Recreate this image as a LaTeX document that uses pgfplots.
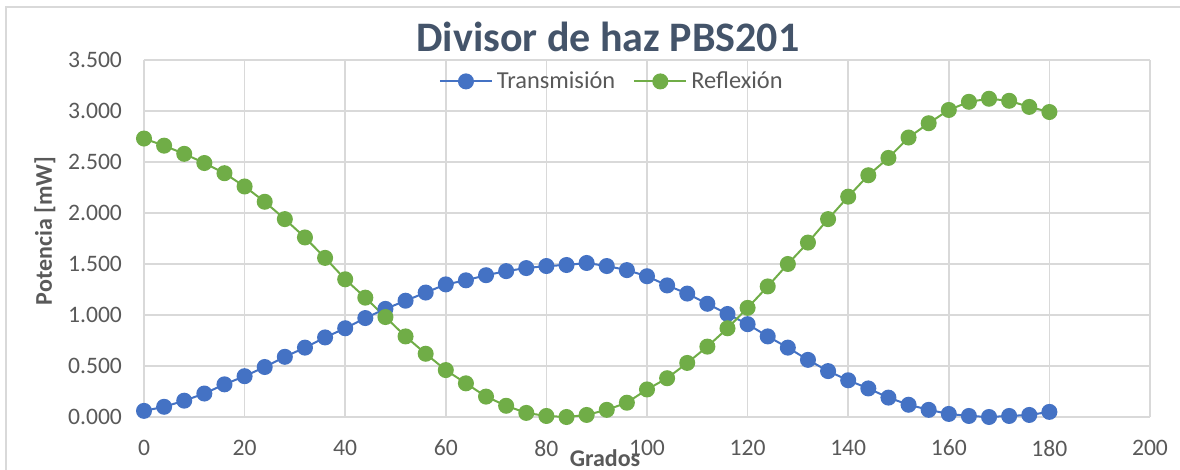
\documentclass[border=0pt]{standalone}
\usepackage{fontspec}
\setmainfont{Carlito}
\usepackage{pgfplots}
\pgfplotsset{compat=1.18}
\definecolor{tblue}{HTML}{4472C4}
\definecolor{rgreen}{HTML}{70AD47}
\definecolor{gridc}{HTML}{D9D9D9}
\definecolor{txt}{HTML}{595959}
\definecolor{ttl}{HTML}{44546A}

\begin{document}
\begin{tikzpicture}[x=0.5pt,y=0.5pt]
\useasboundingbox (0,0) rectangle (1180,470);
\draw[gridc, line width=0.75pt] (6,0) -- (6,463) -- (1180,463);
\begin{axis}[
    at={(72pt,26.5pt)}, anchor=south west,
    scale only axis, width=503pt, height=178.5pt,
    xmin=0, xmax=200, ymin=0, ymax=3.5,
    xtick={0,20,...,200}, ytick={0,0.5,1,1.5,2,2.5,3,3.5},
    grid=major, grid style={gridc, line width=0.75pt},
    axis line style={draw=none}, tick style={draw=none},
    clip=false,
    /pgf/number format/assume math mode=true,
    ticklabel style={font=\fontsize{11.8}{13}\selectfont, text=txt},
    yticklabel style={/pgf/number format/fixed, /pgf/number format/fixed zerofill,
        /pgf/number format/precision=3, xshift=-7.5pt},
    xticklabel style={/pgf/number format/fixed, yshift=-8pt},
    legend columns=2,
    legend style={at={(0.466,0.94)}, anchor=center, draw=none, fill=none,
        font=\fontsize{12.2}{14}\selectfont, text=txt,
        /tikz/every even column/.append style={column sep=7pt}},
    legend image code/.code={
        \draw[mark repeat=2, mark phase=2, #1] plot coordinates {(0pt,0pt) (13pt,0pt) (26pt,0pt)};},
]
\addplot[tblue, line width=1pt, mark=*, mark size=3.5pt, mark options={fill=tblue, draw=tblue}] coordinates {
(0,0.06) (4,0.10) (8,0.16) (12,0.23) (16,0.32) (20,0.40) (24,0.49) (28,0.59)
(32,0.68) (36,0.78) (40,0.87) (44,0.97) (48,1.06) (52,1.14) (56,1.22) (60,1.30)
(64,1.34) (68,1.39) (72,1.43) (76,1.46) (80,1.48) (84,1.49) (88,1.51) (92,1.48)
(96,1.44) (100,1.38) (104,1.29) (108,1.21) (112,1.11) (116,1.01) (120,0.91) (124,0.79)
(128,0.68) (132,0.56) (136,0.45) (140,0.36) (144,0.28) (148,0.19) (152,0.12) (156,0.07)
(160,0.03) (164,0.01) (168,0.00) (172,0.01) (176,0.02) (180,0.05)
};
\addlegendentry{Transmisión}
\addplot[rgreen, line width=1pt, mark=*, mark size=3.5pt, mark options={fill=rgreen, draw=rgreen}] coordinates {
(0,2.73) (4,2.66) (8,2.58) (12,2.49) (16,2.39) (20,2.26) (24,2.11) (28,1.94)
(32,1.76) (36,1.56) (40,1.35) (44,1.17) (48,0.98) (52,0.79) (56,0.62) (60,0.46)
(64,0.33) (68,0.20) (72,0.11) (76,0.04) (80,0.01) (84,0.00) (88,0.02) (92,0.07)
(96,0.14) (100,0.27) (104,0.38) (108,0.53) (112,0.69) (116,0.87) (120,1.07) (124,1.28)
(128,1.50) (132,1.71) (136,1.94) (140,2.16) (144,2.37) (148,2.54) (152,2.74) (156,2.88)
(160,3.01) (164,3.09) (168,3.12) (172,3.10) (176,3.04) (180,2.99)
};
\addlegendentry{Reflexión}
\end{axis}
\node[anchor=base, font=\fontsize{21}{24}\selectfont\bfseries, text=ttl] at (608,418) {Divisor de haz PBS201};
\node[rotate=90, font=\fontsize{12}{14}\selectfont\bfseries, text=txt] at (45,239) {Potencia [mW]};
\node[anchor=base, font=\fontsize{12}{14}\selectfont\bfseries, text=txt] at (605,3) {Grados};
\end{tikzpicture}
\end{document}
